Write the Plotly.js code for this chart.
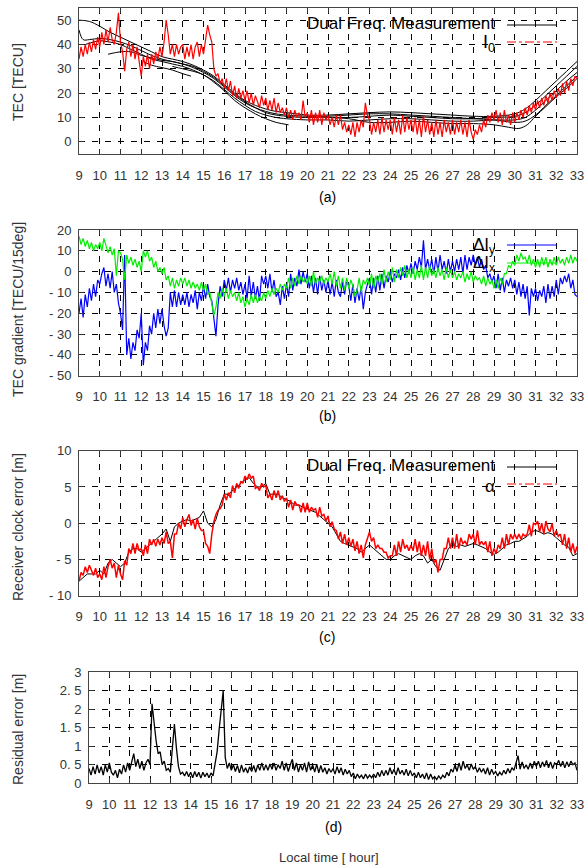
<!DOCTYPE html>
<html>
<head>
<meta charset="utf-8">
<script src="https://cdn.plot.ly/plotly-3.0.1.min.js"></script>
<style>html,body{margin:0;padding:0;background:#fff}#chart{width:587px;height:865px}</style>
</head>
<body>
<div id="chart"></div>
<script>
// ---------------- DATA ----------------
const HOUR_TICKS = [9,10,11,12,13,14,15,16,17,18,19,20,21,22,23,24,25,26,27,28,29,30,31,32,33];
const A_TICKS = [0,10,20,30,40,50];
const A_LABELS = ["0","10","20","30","40","50"];
const B_TICKS = [20,10,0,-10,-20,-30,-40,-50];
const B_LABELS = ["20","10","0","- 10","- 20","- 30","- 40","- 50"];
const C_TICKS = [10,5,0,-5,-10];
const C_LABELS = ["10","5","0","- 5","- 10"];
const D_TICKS = [0,0.5,1,1.5,2,2.5,3];
const D_LABELS = ["0","0. 5","1","1. 5","2","2. 5","3"];

// sampling of the dense series (start hour, step in hours)
const DENSE_START = 9, DENSE_STEP = 0.1;
const CLOCK_DUAL_STEP = 0.2;

// (a) dual-frequency TEC, several satellites (hour, TECU)
const tecDual1X = [9,9.5,10,10.5,11,11.5,12,12.5,13,13.5,14,14.5,15,15.5,16,16.5,17,17.5,18,18.5,19,19.5,20,21,22,23,24,25,26,27,28,29,30,30.5,31,31.5,32,32.5,33];
const tecDual1Y = [50,49.5,47.5,45,43,41,39,37,35,34,33,31.5,29.5,27,23.5,20,17,15,13.5,12.5,12,11.5,11,11,11.5,12,12.3,12,11.5,11,10.5,10.5,11.5,13.5,17,21,25,29,33];
const tecDual2X = [9,9.2,9.5,10,10.5,11,11.5,12,12.5,13,13.5,14,14.5,15,15.5,16,16.5,17,17.5,18,18.5,19,20,21,22,23,24,25,26,27,28,29,30,30.5,31,31.5,32,32.5,33];
const tecDual2Y = [46,42,42,42.5,42,41,39.5,37.5,35.5,34,33,32,30.5,28.5,26,22.5,19,16,14,12.5,11.5,11,10.5,10,10,10.5,11,10.5,10,9.5,9.5,10,10.5,12,15,19,23,27,31];
const tecDual3X = [9.3,9.7,10,10.5,11,11.5,12,12.5,13,13.5,14,14.5,15,15.5,16,16.5,17,17.5,18,18.5,19,20,21,22,23,24,25,26,27,28,29,30,30.5,31,31.5,32,32.5,33];
const tecDual3Y = [40,41,41.5,41,40,38,36,34,33,32,31,29.5,27.5,25,21.5,18,15,12.5,11,10,9.5,9,9,8.5,9,9.5,9.5,9,8.5,8.5,9,9,10,13,17,21,25,28.5];
const tecDual4X = [10.4,11,11.5,12,12.5,13,13.5,14,14.5,15,15.5,16,16.5,17,17.5,18,18.5,19,20,21,22,23,24,25,26,27,28,29,30,30.5,31,31.5,32,32.5,33];
const tecDual4Y = [36,37,37,35.5,34.5,33.5,33,32,31,29,26.5,23,19.5,16.5,14,12,11,10.5,10,10.5,11,11.5,11.5,11,10.5,10,9.5,9,8,8.5,11,15,19,23,27];
const tecDual5X = [12.1,12.5,13,13.5,14,14.4];
const tecDual5Y = [33,31.5,30.5,29.5,28,27];
const tecDual6X = [13.5,14,14.5,15,15.5,16,16.5,17,17.5,18,18.5,19.1];
const tecDual6Y = [31,30,29,27.5,24.5,21,17,14,11.5,9.5,8,7];
const tecDual7X = [21,22,23,24,25,26,27,28,29,29.7,30.2,30.6,31,31.5,32,32.5,33];
const tecDual7Y = [10,9.5,8,8,8.5,8,7.5,7.5,7,6,5.5,7,10.5,14.5,18.5,22,26];

// (a) I0, every 0.1 h from 9.0
const tecI0 = [
 34,39,35,40,36,41,37,42,38,43,
 39,45,40,46,41,47,42,40,45,53,
 41,37,29,38,41,35,40,34,39,33,
 27,35,31,36,30,36,32,37,34,39,
 35,41,50,44,36,40,35,40,36,39,
 40,34,39,35,40,34,39,41,35,40,
 36,42,48,44,41,30,27,28,24,26,
 22,26,21,25,19,23,18,22,18,21,
 17,21,16,20,15,19,16,14,19,15,
 18,13,17,13,18,12,16,12,14,11,
 14,10,13,9,13,10,12,9,17,10,
 12,8,13,7,12,8,13,7,12,9,
 11,7,10,6,11,7,11,5,8,4,
 7,3,8,2,8,4,9,6,16,11,
 9,3,8,4,9,3,10,4,9,5,
 9,3,10,4,9,3,11,4,10,5,
 9,4,10,3,9,2,11,4,9,3,
 8,2,9,3,8,2,9,4,8,3,
 9,3,8,4,9,3,8,2,9,4,
 1,5,3,7,4,9,6,11,8,12,
 9,13,8,12,7,13,8,11,7,12,
 8,12,9,13,10,14,11,15,12,16,
 13,17,14,18,15,19,16,20,17,21,
 18,22,19,24,20,25,21,26,23,27,
 26];

// (b) TEC gradients, every 0.1 h from 9.0
const gradDIy = [
 -20,-13,-22,-11,-17,-8,-14,-6,-12,-4,
 -6,-1,2,-7,-1,-8,0,-10,-6,-15,
 -20,-28,8,-40,-32,-42,-34,-38,-28,-32,
 -20,-45,-34,-38,-26,-30,-20,-27,-18,-25,
 -18,-26,-31,-27,-10,-17,-9,-17,-10,-16,
 -11,-16,-10,-17,-11,-15,-9,-18,-10,-14,
 -7,-13,-6,-12,-14,-24,-31,-16,-7,-12,
 -4,-9,-3,-10,-4,-8,-3,-9,-5,-11,
 -6,-13,-2,-12,-5,-13,-7,-14,-2,-6,
 -2,-8,-1,-10,-4,-12,-10,-16,-7,-13,
 -6,-12,-1,-9,-3,-7,1,-6,0,-5,
 -1,-8,-2,-10,-3,-11,-2,-9,-4,-10,
 -4,-11,-5,-12,-4,-10,-12,-5,-11,-4,
 -7,-14,-6,-15,-8,-14,-7,-18,-10,-6,
 -3,-11,-3,-10,-2,-9,-1,-8,-2,-5,
 0,-5,-1,-3,1,-4,2,-3,3,-1,
 4,-1,5,1,7,2,15,1,6,1,
 6,-1,7,0,8,1,5,-1,6,0,
 5,0,6,1,7,-1,8,1,7,3,
 8,3,7,2,6,1,3,-3,-1,-5,
 -2,-8,-1,-9,-3,-10,-4,-7,-3,-8,
 -4,-11,-5,-12,-6,-13,-7,-21,-8,-12,
 -8,-14,-9,-12,-7,-15,-6,-13,-7,-12,
 -4,-11,-3,-6,-2,-5,-1,-8,-4,-11,
 -12];
const gradDIx = [
 17,13,16,12,15,11,14,10,13,11,
 14,10,16,13,9,12,8,11,-2,10,
 9,6,-4,8,4,7,3,6,2,5,
 0,10,7,10,5,7,2,5,0,2,
 -1,2,-4,-2,-7,-3,-8,-4,-7,-3,
 -6,-3,-7,-4,-8,-5,-8,-6,-9,-5,
 -9,-6,-11,-10,-16,-21,-17,-10,-13,-8,
 -12,-8,-13,-9,-12,-10,-14,-10,-15,-12,
 -17,-13,-16,-11,-15,-11,-15,-12,-14,-10,
 -13,-9,-12,-8,-11,-8,-10,-6,-9,-6,
 -8,-3,-8,-3,-7,-2,-6,-2,-5,-3,
 -6,-2,-7,0,-6,-3,-5,-2,-6,-3,
 -5,-1,-6,0,-7,-2,-8,-3,-9,-3,
 -8,-4,-7,-12,-9,-3,-10,-4,-6,-3,
 -7,-1,-8,-2,-5,-1,-6,1,-5,0,
 -4,2,-5,1,-3,2,-2,3,-3,1,
 -3,2,-4,1,-3,3,-4,2,-3,3,
 -2,1,-3,2,-2,1,-4,2,-3,1,
 -3,0,-4,-1,-3,0,-5,-1,-4,0,
 -5,-2,-4,-3,-6,-2,-7,-3,-6,-4,
 -8,-4,-8,-3,-6,-1,-1,3,2,5,
 3,8,5,9,6,7,4,8,3,6,
 2,6,2,7,3,7,2,6,3,7,
 3,7,4,6,3,7,4,8,4,7,
 5];

// (c) receiver clock error: dual-frequency (every 0.2 h) and alpha (every 0.1 h)
const clockDual = [
 -8,-7.5,-7,-7,-7,
 -6.5,-7,-5.5,-5,-5.5,
 -6,-5.5,-4,-3.5,-3.5,
 -4,-3.5,-3,-2.5,-2,
 -1.5,-0.8,-2.5,-0.5,0,
 0.3,0.5,0.3,0.5,0.8,
 1.7,0,-0.5,0.5,2.5,
 4,4,4.5,5,5.5,
 6,6.3,5.5,5,5,
 5.5,4,4,4,3.5,
 3.3,3,2.5,2.5,2.2,
 2,1.8,1.5,1,0.5,
 0,-0.5,-1.5,-2.5,-2.8,
 -3,-3.2,-3.5,-4,-3.5,
 -3,-3.5,-4,-4.5,-5,
 -5,-4.5,-4.2,-4.5,-4.8,
 -5,-4.5,-4.2,-4.5,-5.5,
 -5,-6,-6.5,-5,-3.5,
 -3,-3.2,-3,-3.2,-3,
 -2.8,-3,-3.2,-3.5,-4,
 -4.3,-4,-3.5,-3,-2.8,
 -2.5,-2.5,-2.2,-1.8,-1.2,
 -1,-1.2,-1.5,-1.3,-1.5,
 -2,-2.5,-3,-3.3,-4.5,
 -4.2];
const clockAlpha = [
 -8,-6.8,-7.2,-6,-6.8,-5.8,-6.5,-7.2,-6.2,-7.5,
 -7,-7.8,-6,-7.5,-6,-5,-6.2,-5.5,-7.5,-5.8,
 -7,-7.8,-5.2,-5.8,-3.5,-4.2,-2.8,-4.2,-2.8,-3.8,
 -3.5,-4.5,-3,-4.2,-2.2,-3,-2.2,-3.2,-2.2,-3,
 -2,-2.8,-1.2,-2.8,-2.5,-4.8,-1.5,-1.5,0,-0.8,
 0.8,-0.5,0.5,1.2,-0.3,0.5,-0.8,0.7,-0.5,-1,
 -1,-2.8,-3.2,-4.2,-1.5,0.2,1.2,1.8,2,2.5,
 4,3.2,4.2,3.5,5.2,4.2,5.5,4.8,5.8,5.5,
 6.5,6,6.8,6.2,6.5,4.8,5,4.5,5.5,5,
 5.2,3.5,4,3.2,4.5,3.5,4.5,3.2,3.8,3,
 3.5,2.2,3.2,1.8,3,2.5,2.5,1.5,2.8,1.5,
 2.8,1.5,2.2,1.8,2,0.8,2.2,1,1.2,0.3,
 1,-0.5,0.2,-0.8,-1,-2.2,-1.2,-2.8,-1.5,-3,
 -2,-3.2,-2.2,-3.8,-2.5,-4.2,-3,-4.8,-3,-2.2,
 -1.2,-2.5,-2,-3.5,-3,-3.5,-3.5,-4,-4,-4.8,
 -4.5,-4.5,-3,-4.5,-2.5,-4,-2.2,-3.5,-3,-3.8,
 -3,-3.8,-2.2,-4,-2.5,-4.5,-3,-4.5,-2.5,-5,
 -3.5,-5.5,-5,-6.8,-5,-5,-3.5,-3.5,-2,-3.5,
 -2,-3.5,-1.5,-3.5,-2,-2.8,-2.5,-3,-1.5,-2.2,
 -1.5,-3,-1,-3,-2.5,-3,-2.5,-4,-2.5,-4.5,
 -3.5,-4.2,-3,-3.5,-2,-3.5,-1.5,-3,-1.5,-2.2,
 -1.5,-2.2,-1.5,-2.2,-1.5,-1.8,-1.5,-0.2,-1.8,0,
 -0.2,0.3,-1.2,0,-1.5,0.3,-0.8,-1.2,0,-1.8,
 -1,-1.8,-1.5,-3,-1.5,-3.5,-2,-4,-2.8,-4.2,
 -3.2];

// (d) residual error, every 0.1 h from 9.0
const residual = [
 0.4,0.22,0.45,0.25,0.5,0.28,0.45,0.22,0.5,0.3,
 0.55,0.3,0.22,0.35,0.15,0.38,0.25,0.5,0.3,0.55,
 0.35,0.6,0.8,0.45,0.65,0.4,0.6,0.35,0.55,0.65,
 0.5,2.15,1.6,1.15,0.8,0.85,0.5,0.6,0.35,0.4,
 0.3,0.95,1.6,0.95,0.45,0.25,0.3,0.2,0.32,0.18,
 0.3,0.15,0.32,0.18,0.3,0.14,0.3,0.18,0.28,0.15,
 0.28,0.2,0.5,0.85,1.45,2.0,2.5,0.7,0.4,0.55,
 0.35,0.5,0.32,0.48,0.28,0.5,0.3,0.42,0.28,0.45,
 0.32,0.48,0.3,0.5,0.35,0.55,0.35,0.5,0.35,0.52,
 0.38,0.55,0.35,0.5,0.4,0.6,0.35,0.55,0.32,0.5,
 0.65,0.35,0.55,0.3,0.5,0.35,0.55,0.3,0.58,0.35,
 0.5,0.3,0.52,0.28,0.48,0.3,0.42,0.25,0.4,0.3,
 0.4,0.25,0.45,0.28,0.42,0.22,0.38,0.25,0.35,0.18,
 0.28,0.12,0.25,0.15,0.22,0.12,0.25,0.14,0.22,0.15,
 0.25,0.15,0.3,0.18,0.35,0.2,0.35,0.22,0.42,0.25,
 0.38,0.22,0.42,0.25,0.35,0.22,0.38,0.2,0.35,0.2,
 0.28,0.15,0.3,0.15,0.25,0.12,0.28,0.1,0.25,0.12,
 0.18,0.1,0.2,0.12,0.22,0.15,0.3,0.2,0.38,0.3,
 0.5,0.32,0.55,0.35,0.6,0.4,0.5,0.35,0.52,0.38,
 0.45,0.3,0.42,0.3,0.4,0.25,0.42,0.22,0.38,0.25,
 0.32,0.2,0.3,0.22,0.35,0.25,0.4,0.28,0.42,0.35,
 0.55,0.75,0.38,0.58,0.4,0.5,0.38,0.55,0.4,0.6,
 0.45,0.6,0.42,0.58,0.45,0.62,0.42,0.58,0.4,0.55,
 0.5,0.62,0.45,0.6,0.42,0.58,0.45,0.6,0.5,0.55,
 0.35];

// ---------------- LAYOUT HELPERS ----------------
const W = 587, H = 865;
const fx = p => p / W;          // pixel x -> paper
const fy = p => 1 - p / H;      // pixel y -> paper
const FONT = "Liberation Sans, Arial, sans-serif";
const TICKFONT = {family: FONT, size: 13, color: "#333"};

function xAxis(anchor, left, right) {
  return {
    domain: [fx(left), fx(right)], anchor: anchor, range: [9, 33],
    tickvals: HOUR_TICKS, ticktext: HOUR_TICKS.map(String),
    ticks: "inside", ticklen: 5, tickcolor: "#333", mirror: "ticks",
    showline: true, linecolor: "#444", linewidth: 1,
    showgrid: true, gridcolor: "#000", griddash: "6px,7px", gridwidth: 1,
    zeroline: false, tickfont: TICKFONT, ticklabelstandoff: 9, fixedrange: true
  };
}
function yAxis(anchor, top, bottom, range, vals, labels) {
  return {
    domain: [fy(bottom), fy(top)], anchor: anchor, range: range,
    tickvals: vals, ticktext: labels,
    ticks: "inside", ticklen: 5, tickcolor: "#333", mirror: "ticks",
    showline: true, linecolor: "#444", linewidth: 1,
    showgrid: true, gridcolor: "#000", griddash: "6px,7px", gridwidth: 1,
    zeroline: false, tickfont: TICKFONT, ticklabelstandoff: 4, fixedrange: true
  };
}

const blackLine = {color: "#000", width: 1};
const traces = [];
[[tecDual1X,tecDual1Y],[tecDual2X,tecDual2Y],[tecDual3X,tecDual3Y],[tecDual4X,tecDual4Y],
 [tecDual5X,tecDual5Y],[tecDual6X,tecDual6Y],[tecDual7X,tecDual7Y]].forEach(([x,y]) => {
  traces.push({type:"scatter", mode:"lines", x:x, y:y, xaxis:"x", yaxis:"y", line:{color:"#000", width:1, shape:"spline"}, hoverinfo:"skip"});
});
traces.push({type:"scatter", mode:"lines", x0:DENSE_START, dx:DENSE_STEP, y:tecI0, xaxis:"x", yaxis:"y", line:{color:"#ff0000", width:1.2}});
traces.push({type:"scatter", mode:"lines", x0:DENSE_START, dx:DENSE_STEP, y:gradDIy, xaxis:"x2", yaxis:"y2", line:{color:"#0000ff", width:1.2}});
traces.push({type:"scatter", mode:"lines", x0:DENSE_START, dx:DENSE_STEP, y:gradDIx, xaxis:"x2", yaxis:"y2", line:{color:"#00ee00", width:1.2}});
traces.push({type:"scatter", mode:"lines", x0:DENSE_START, dx:CLOCK_DUAL_STEP, y:clockDual, xaxis:"x3", yaxis:"y3", line:{color:"#000", width:1}});
traces.push({type:"scatter", mode:"lines", x0:DENSE_START, dx:DENSE_STEP, y:clockAlpha, xaxis:"x3", yaxis:"y3", line:{color:"#ff0000", width:1.5}});
traces.push({type:"scatter", mode:"lines", x0:DENSE_START, dx:DENSE_STEP, y:residual, xaxis:"x4", yaxis:"y4", line:{color:"#000", width:1.3}});

const legendText = (txt, xpx, ypx, size) => ({
  text: txt, xref: "paper", yref: "paper", x: fx(xpx), y: fy(ypx),
  xanchor: "right", yanchor: "middle", showarrow: false,
  font: {family: FONT, size: size || 16, color: "#000"}
});
const legendLine = (ypx, color, dash) => ({
  type: "line", xref: "paper", yref: "paper", x0: fx(507), x1: fx(557), y0: fy(ypx), y1: fy(ypx),
  line: {color: color, width: 1, dash: dash || "solid"}
});
const centerText = (txt, xpx, ypx, size, color) => ({
  text: txt, xref: "paper", yref: "paper", x: fx(xpx), y: fy(ypx),
  xanchor: "center", yanchor: "middle", showarrow: false,
  font: {family: FONT, size: size, color: color || "#000"}
});
const yTitle = (txt, ypx) => ({
  text: txt, xref: "paper", yref: "paper", x: fx(18), y: fy(ypx),
  xanchor: "center", yanchor: "middle", textangle: -90, showarrow: false,
  font: {family: FONT, size: 14, color: "#333"}
});

const layout = {
  width: W, height: H, margin: {l: 0, r: 0, t: 0, b: 0},
  paper_bgcolor: "#fff", plot_bgcolor: "#fff", showlegend: false,
  xaxis: xAxis("y", 79, 577),
  yaxis: yAxis("x", 8, 154, [-5, 55], A_TICKS, A_LABELS),
  xaxis2: xAxis("y2", 79, 577),
  yaxis2: yAxis("x2", 230, 375.7, [-50, 20], B_TICKS, B_LABELS),
  xaxis3: xAxis("y3", 79, 577),
  yaxis3: yAxis("x3", 450.7, 595.7, [-10, 10], C_TICKS, C_LABELS),
  xaxis4: xAxis("y4", 89, 577),
  yaxis4: yAxis("x4", 672.3, 783.3, [0, 3], D_TICKS, D_LABELS),
  shapes: [
    legendLine(25, "#000"), legendLine(42, "#ff0000", "dashdot"),
    legendLine(245, "#0000ff"), legendLine(263, "#00ee00"),
    legendLine(467, "#000"), legendLine(484, "#ff0000", "dashdot")
  ],
  annotations: [
    legendText("Dual Freq. Measurement", 497, 24, 17),
    legendText("I<sub>0</sub>", 497, 44, 18),
    legendText("ΔI<sub>y</sub>", 497, 246, 17),
    legendText("ΔI<sub>x</sub>", 497, 264, 17),
    legendText("Dual Freq. Measurement", 497, 466, 17),
    legendText("α", 497, 486, 17),
    centerText("(a)", 327, 197, 14),
    centerText("(b)", 327, 416, 14),
    centerText("(c)", 327, 637, 14),
    centerText("(d)", 333, 827, 14),
    centerText("Local time [ hour]", 329, 857, 13, "#333"),
    yTitle("TEC [TECU]", 82),
    yTitle("TEC gradient [TECU/15deg]", 310),
    yTitle("Receiver clock error [m]", 527),
    yTitle("Residual error [m]", 730)
  ]
};

Plotly.newPlot("chart", traces, layout, {staticPlot: true, displayModeBar: false});
</script>
</body>
</html>
